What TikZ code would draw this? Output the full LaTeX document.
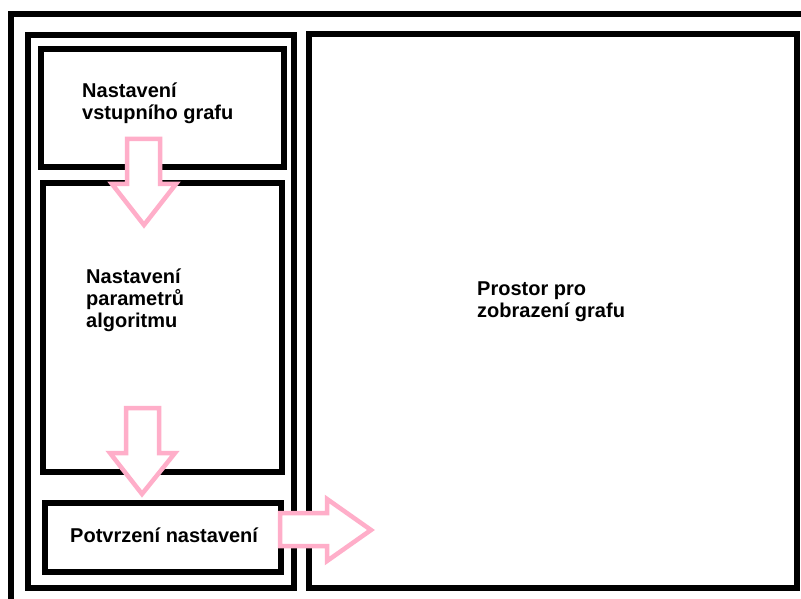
\documentclass[tikz,border=0pt]{standalone}
\usepackage{fontspec}
\setmainfont{Liberation Sans}
\begin{document}
\begin{tikzpicture}[x=1pt,y=-1pt,
  frame/.style={draw=black,line width=6pt,fill=none,inner sep=0pt,outer sep=0pt},
  blockarrow/.style={draw=rose,fill=white,line width=4.5pt,line join=miter},
  label/.style={anchor=base west,inner sep=0pt,align=left,
    font=\fontsize{20}{22}\selectfont\bfseries}]
\definecolor{rose}{RGB}{255,174,201}
\useasboundingbox (0,0) rectangle (801,599);
\clip (0,0) rectangle (801,599);
\fill[white] (0,0) rectangle (801,599);

% outer window edge (runs past the bottom and right)
\draw[line width=6pt] (10.5,620) -- (10.5,14) -- (820,14);

% panels
\node[frame,minimum width=266pt,minimum height=553pt] (left) at (161,311.5) {};
\node[frame,minimum width=488pt,minimum height=553.5pt] (right) at (553,311.25) {};

% boxes of the left panel
\node[frame,minimum width=243pt,minimum height=118pt] (input) at (162.5,108) {};
\node[frame,minimum width=239pt,minimum height=289pt] (params) at (162.5,327.5) {};
\node[frame,minimum width=236pt,minimum height=69pt] (confirm) at (163,537.5) {};

% block arrows
\draw[blockarrow] (127,139) -- (160,139) -- (160,184) -- (176,184) -- (144,225)
  -- (112,184) -- (127,184) -- cycle;
\draw[blockarrow] (126,408) -- (159,408) -- (159,453) -- (175,453) -- (142,494)
  -- (110,453) -- (126,453) -- cycle;
\draw[blockarrow] (280,513) -- (327,513) -- (327,499) -- (371,530) -- (327,561)
  -- (327,546) -- (280,546) -- cycle;

% labels (multi-line nodes sit on the baseline of their last line)
\node[label] (tinput) at (82,120) {Nastavení\\vstupního grafu};
\node[label] (tparams) at (86,327) {Nastavení\\parametrů\\algoritmu};
\node[label] (tright) at (477,317) {Prostor pro\\zobrazení grafu};
\node[label] (tconfirm) at (70,542) {Potvrzení nastavení};
\end{tikzpicture}
\end{document}
